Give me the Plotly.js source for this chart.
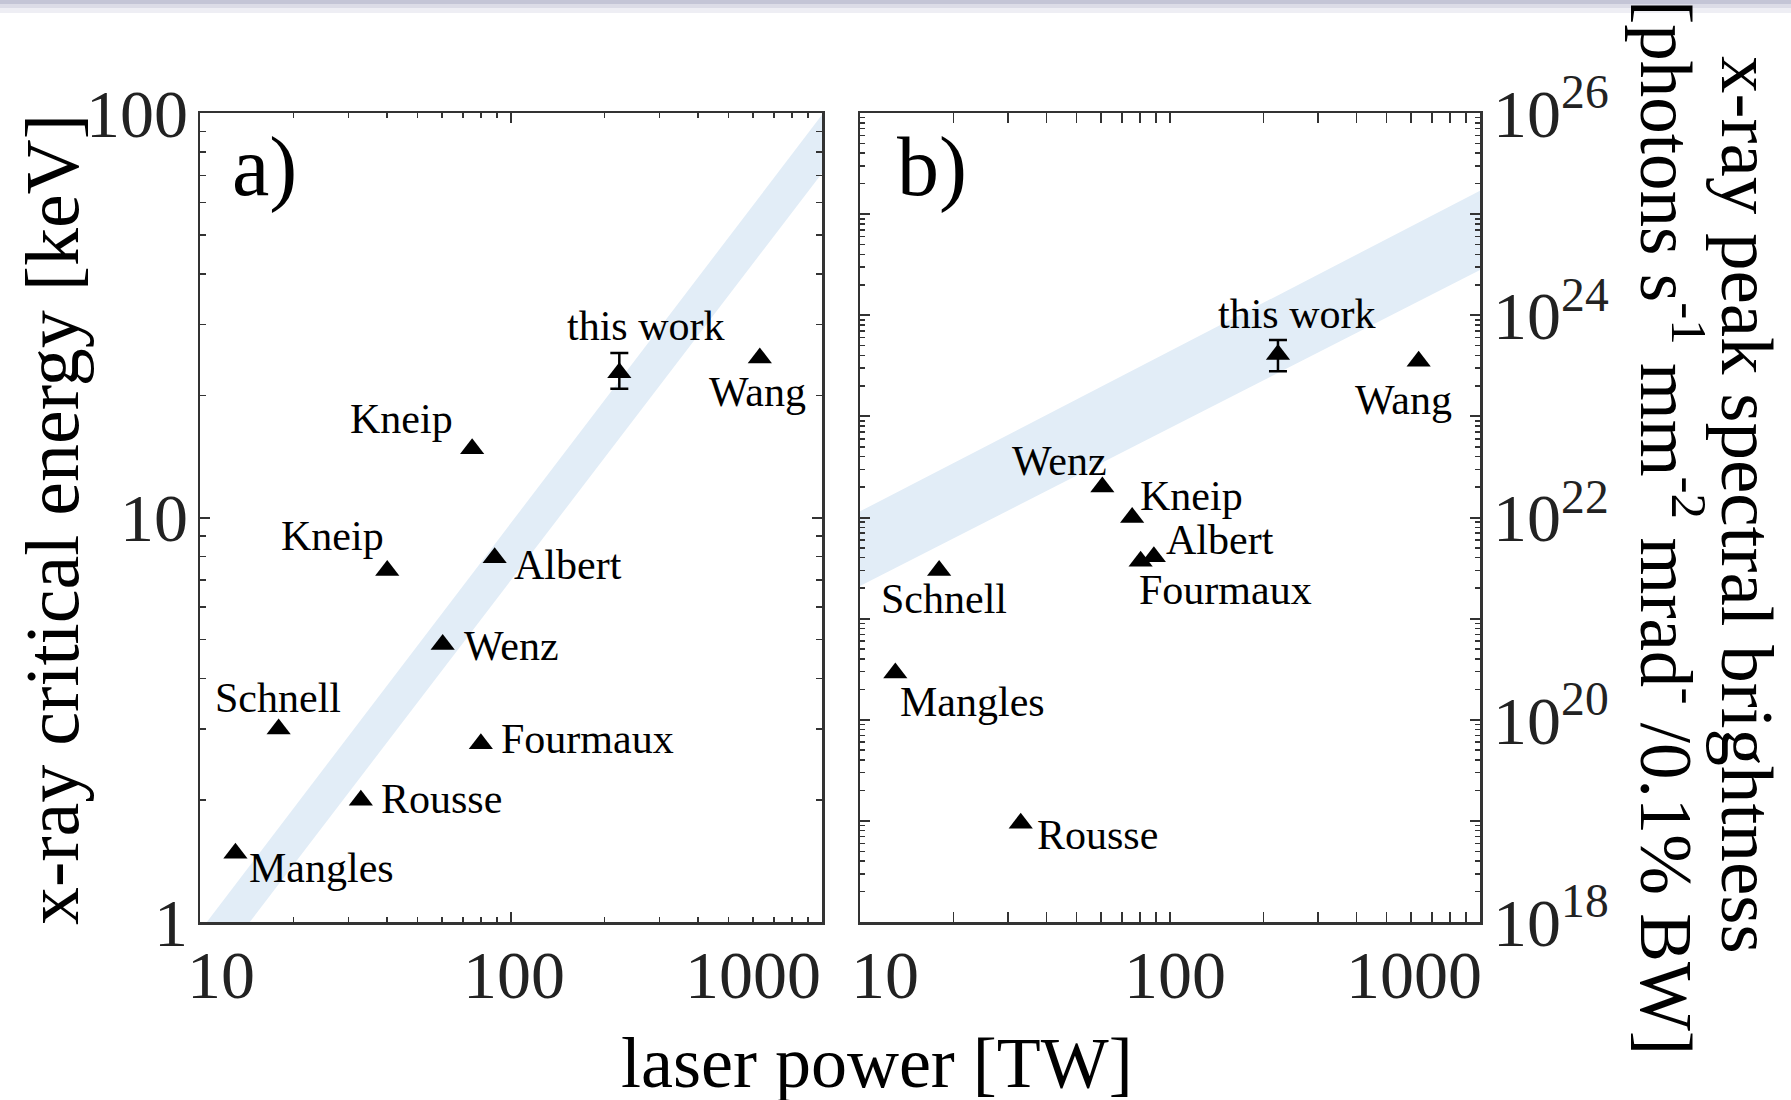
<!DOCTYPE html>
<html>
<head>
<meta charset="utf-8">
<script src="https://cdn.plot.ly/plotly-3.0.1.min.js"></script>
<style>
  html, body { margin: 0; padding: 0; background: #ffffff; }
  #chart { width: 1791px; height: 1100px; }
</style>
</head>
<body>
<div id="chart"></div>
<script>
// ---- data: panel a) critical energy vs laser power ----
const sourcesA = ['Mangles', 'Schnell', 'Rousse', 'Kneip', 'Wenz', 'Kneip', 'Fourmaux', 'Albert', 'Wang'];
const powerA   = [13.0, 17.9, 32.9, 40.0, 60.3, 75.0, 80.0, 88.6, 631];      // TW
const energyA  = [1.48, 3.0, 2.0, 7.4, 4.85, 14.8, 2.76, 7.95, 24.8];        // keV

// ---- data: panel b) peak spectral brightness vs laser power ----
const sourcesB    = ['Mangles', 'Schnell', 'Rousse', 'Wenz', 'Kneip', 'Fourmaux', 'Albert', 'Wang'];
const powerB      = [13.0, 18.0, 33.0, 60.5, 75.5, 80.4, 88.7, 634];        // TW
const brightnessB = [2.9e20, 3.0e21, 9.5e18, 2.0e22, 1.0e22, 3.7e21, 4.1e21, 3.5e23];

// ---- this work (with uncertainty) ----
const thisWorkLabel       = 'this work';
const thisWorkPower       = [223];
const thisWorkEnergy      = [22.8];
const thisWorkEnergyUp    = [2.7];
const thisWorkEnergyDown  = [2.0];
const thisWorkBright      = [4.1e23];
const thisWorkBrightUp    = [1.6e23];
const thisWorkBrightDown  = [1.3e23];

// ---- scaling bands (edges at the ends of the power range) ----
const bandPower       = [10, 1000];
const bandEnergyHigh  = [0.95, 99];
const bandEnergyLow   = [0.69, 71];
const bandBrightHigh  = [1.15e22, 1.7e25];
const bandBrightLow   = [2.1e21, 2.8e24];

// ---- axis ticks ----
const powerTicks     = [10, 100, 1000];
const energyTicks    = [1, 10, 100];
const brightLabelExp = [18, 20, 22, 24, 26];
const brightOddExp   = [19, 21, 23, 25];

// label placement around each marker: [xanchor, xshift px, yshift px]
const placeA = [
  ['left', 13, -15], ['center', -1, 31], ['left', 19, 1], ['right', -2, 34],
  ['left', 20, -1], ['right', -18, 30], ['left', 19, 5], ['left', 18, -7], ['center', -2, -34]
];
const placeB = [
  ['left', 4, -29], ['center', 5, -29], ['left', 15, -12], ['right', 6, 26],
  ['left', 7, 22], ['left', -3, -29], ['left', 11, 17], ['center', -15, -39]
];
const placeThisA = ['center', 27, 47];
const placeThisB = ['center', 19, 40];

const FONT = 'Liberation Serif, Times New Roman, serif';
const AX = '#333333';
const TXT = '#222222';
const BAND = '#e2edf7';

const W = 1791, H = 1100, T = 113, B = 178;
const plotH = H - T - B;
const domA = [200 / W, 822 / W];
const domB = [860 / W, 1480 / W];

function minorDecades(lo, hi) {
  const v = [];
  for (let e = lo; e < hi; e++) for (let m = 2; m <= 9; m++) v.push(m * Math.pow(10, e));
  return v;
}

const traces = [
  {
    x: [bandPower[0], bandPower[1], bandPower[1], bandPower[0]],
    y: [bandEnergyHigh[0], bandEnergyHigh[1], bandEnergyLow[1], bandEnergyLow[0]],
    xaxis: 'x', yaxis: 'y', mode: 'lines', fill: 'toself',
    fillcolor: BAND, line: { width: 0 }, hoverinfo: 'skip'
  },
  {
    x: [bandPower[0], bandPower[1], bandPower[1], bandPower[0]],
    y: [bandBrightHigh[0], bandBrightHigh[1], bandBrightLow[1], bandBrightLow[0]],
    xaxis: 'x2', yaxis: 'y2', mode: 'lines', fill: 'toself',
    fillcolor: BAND, line: { width: 0 }, hoverinfo: 'skip'
  },
  {
    x: powerA, y: energyA, text: sourcesA, xaxis: 'x', yaxis: 'y', mode: 'markers',
    marker: { symbol: 'triangle-up', size: 21, color: '#000' }
  },
  {
    x: powerB, y: brightnessB, text: sourcesB, xaxis: 'x2', yaxis: 'y2', mode: 'markers',
    marker: { symbol: 'triangle-up', size: 21, color: '#000' }
  },
  {
    x: thisWorkPower, y: thisWorkEnergy, xaxis: 'x', yaxis: 'y', mode: 'markers',
    marker: { symbol: 'triangle-up', size: 21, color: '#000' },
    error_y: { type: 'data', symmetric: false, array: thisWorkEnergyUp, arrayminus: thisWorkEnergyDown,
               color: '#000', thickness: 2.5, width: 9 }
  },
  {
    x: thisWorkPower, y: thisWorkBright, xaxis: 'x2', yaxis: 'y2', mode: 'markers',
    marker: { symbol: 'triangle-up', size: 21, color: '#000' },
    error_y: { type: 'data', symmetric: false, array: thisWorkBrightUp, arrayminus: thisWorkBrightDown,
               color: '#000', thickness: 2.5, width: 9 }
  },
  // carrier for the unlabeled odd-decade ticks of panel b
  { x: [], y: [], xaxis: 'x2', yaxis: 'y3', mode: 'markers', hoverinfo: 'skip' }
];

const frame = {
  showline: true, linecolor: AX, linewidth: 2.5, mirror: 'allticks',
  ticks: 'inside', tickcolor: AX, tickwidth: 2, ticklen: 10,
  showgrid: false, zeroline: false, type: 'log', fixedrange: true
};

const xMinor = { ticks: 'inside', ticklen: 5, tickwidth: 1.5, tickcolor: AX, tickmode: 'array',
                 tickvals: minorDecades(1, 3), showgrid: false };

const layout = {
  width: W, height: H,
  margin: { l: 0, r: 0, t: T, b: B, pad: 0 },
  paper_bgcolor: '#ffffff', plot_bgcolor: 'rgba(0,0,0,0)',
  showlegend: false,
  font: { family: FONT, color: '#000' },
  xaxis: Object.assign({}, frame, {
    domain: domA, anchor: 'y', range: [1, 3],
    tickmode: 'array', tickvals: powerTicks, showticklabels: false, minor: xMinor
  }),
  xaxis2: Object.assign({}, frame, {
    domain: domB, anchor: 'y2', range: [1, 3],
    tickmode: 'array', tickvals: powerTicks, showticklabels: false, minor: xMinor
  }),
  yaxis: Object.assign({}, frame, {
    domain: [0, 1], anchor: 'x', range: [0, 2],
    tickmode: 'array', tickvals: energyTicks, ticktext: energyTicks.map(String),
    tickfont: { family: FONT, size: 68, color: TXT }, ticklabelstandoff: -4,
    minor: { ticks: 'inside', ticklen: 6, tickwidth: 1.5, tickcolor: AX, tickmode: 'array',
             tickvals: minorDecades(0, 2), showgrid: false }
  }),
  yaxis2: Object.assign({}, frame, {
    domain: [0, 1], anchor: 'x2', side: 'right', range: [18, 26],
    tickmode: 'array', tickvals: brightLabelExp.map(e => Math.pow(10, e)),
    ticktext: brightLabelExp.map(e => '10<sup>' + e + '</sup>'),
    tickfont: { family: FONT, size: 68, color: TXT }, ticklabelstandoff: -3,
    minor: { ticks: 'inside', ticklen: 5, tickwidth: 1.5, tickcolor: AX, tickmode: 'array',
             tickvals: minorDecades(18, 26), showgrid: false }
  }),
  yaxis3: Object.assign({}, frame, {
    overlaying: 'y2', anchor: 'x2', side: 'right', range: [18, 26],
    tickmode: 'array', tickvals: brightOddExp.map(e => Math.pow(10, e)),
    showticklabels: false
  }),
  annotations: [],
  shapes: []
};

const ann = layout.annotations;

// power tick labels under both panels
[['x', [-14, 3, 0]], ['x2', [-10, 5, 3]]].forEach(([ax, shifts]) => {
  powerTicks.forEach((p, i) => {
    ann.push({
      xref: ax, yref: 'paper', x: Math.log10(p), y: 0, yshift: -53,
      xanchor: ['left', 'center', 'right'][i], yanchor: 'middle', xshift: shifts[i],
      text: String(p), showarrow: false, borderpad: 0,
      font: { family: FONT, size: 68, color: TXT }
    });
  });
});

// source labels next to markers
function labelPoints(names, xs, ys, place, xref, yref) {
  names.forEach((n, i) => {
    const p = place[i];
    ann.push({
      xref: xref, yref: yref, x: Math.log10(xs[i]), y: Math.log10(ys[i]),
      text: n, showarrow: false, xanchor: p[0], yanchor: 'middle',
      xshift: p[1], yshift: p[2], borderpad: 0,
      font: { family: FONT, size: 42, color: '#000' }
    });
  });
}
labelPoints(sourcesA, powerA, energyA, placeA, 'x', 'y');
labelPoints(sourcesB, powerB, brightnessB, placeB, 'x2', 'y2');
labelPoints([thisWorkLabel], thisWorkPower, thisWorkEnergy, [placeThisA], 'x', 'y');
labelPoints([thisWorkLabel], thisWorkPower, thisWorkBright, [placeThisB], 'x2', 'y2');

// panel tags
const py = v => (H - B - v) / plotH;   // pixel row -> paper y
ann.push({ xref: 'paper', yref: 'paper', x: 231 / W, y: py(167), xanchor: 'left', yanchor: 'middle',
           text: 'a)', showarrow: false, borderpad: 0, font: { family: FONT, size: 84, color: '#000' } });
ann.push({ xref: 'paper', yref: 'paper', x: 896 / W, y: py(167), xanchor: 'left', yanchor: 'middle',
           text: 'b)', showarrow: false, borderpad: 0, font: { family: FONT, size: 84, color: '#000' } });

// axis titles
ann.push({ xref: 'paper', yref: 'paper', x: 52 / W, y: py(520), xanchor: 'center', yanchor: 'middle',
           textangle: -90, text: 'x-ray critical energy [keV]', showarrow: false,
           font: { family: FONT, size: 76, color: '#000' } });
ann.push({ xref: 'paper', yref: 'paper', x: 877 / W, y: py(1063), xanchor: 'center', yanchor: 'middle',
           text: 'laser power [TW]', showarrow: false,
           font: { family: FONT, size: 72, color: '#000' } });
ann.push({ xref: 'paper', yref: 'paper', x: 1747 / W, y: py(505), xanchor: 'center', yanchor: 'middle',
           textangle: 90, text: 'x-ray peak spectral brightness', showarrow: false,
           font: { family: FONT, size: 75, color: '#000' } });
ann.push({ xref: 'paper', yref: 'paper', x: 1672 / W, y: py(527), xanchor: 'center', yanchor: 'middle',
           textangle: 90, text: '[photons s<sup>-1</sup> mm<sup>-2</sup> mrad<sup>-</sup> /0.1% BW]',
           showarrow: false, font: { family: FONT, size: 73, color: '#000' } });

// thin shaded strip along the top edge
[[0, 4, '#c4c5d6'], [4, 8, '#dcdce7'], [8, 13, '#eeeef4']].forEach(([a, b, c]) => {
  layout.shapes.push({ type: 'rect', xref: 'paper', yref: 'paper', x0: 0, x1: 1,
                       y0: py(b), y1: py(a), fillcolor: c, line: { width: 0 }, layer: 'above' });
});

Plotly.newPlot('chart', traces, layout, { staticPlot: true, displayModeBar: false });
</script>
</body>
</html>
